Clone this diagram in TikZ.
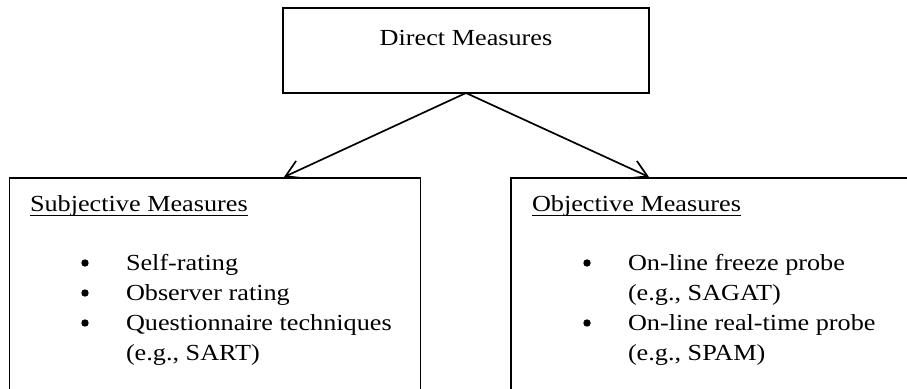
\documentclass[tikz,border=0pt]{standalone}
\usepackage{fontspec}
\setmainfont{Liberation Serif}[FakeStretch=1.14]
\usetikzlibrary{arrows.meta}
% underline at a fixed depth below the baseline
\newcommand\hdul[1]{\setbox0\hbox{#1}\rlap{\rule[-4.5pt]{\wd0}{1.3pt}}\box0}
\tikzset{
  frame/.style={draw=black, line width=1.7pt},
  txt/.style={inner sep=0pt, outer sep=0pt, anchor=base west,
              font=\fontsize{23}{30}\selectfont},
  dot/.style={circle, fill=black, inner sep=0pt, minimum size=7.4pt},
  link/.style={draw=black, line width=1.7pt,
               -{Straight Barb[length=16pt,width=19pt,line width=1.7pt]}}
}
\begin{document}
\begin{tikzpicture}[x=1pt,y=1pt]
  \useasboundingbox (0,0) rectangle (907,388);
  \clip (0,0) rectangle (907,388);
  \fill[white] (0,0) rectangle (907,388);

  % top box
  \draw[frame] (283,295) rectangle (649,380);
  \coordinate (top) at (466,295);
  \node[txt, anchor=base] (direct) at (466,342) {Direct Measures};

  % lower boxes (running past the bottom edge)
  \draw[frame] (9.5,-20) -- (9.5,210) -- (420.5,210) -- (420.5,-20);
  \draw[frame] (511,-20) -- (511,210) -- (930,210);
  \coordinate (subtip) at (284,211);
  \coordinate (objtip) at (649,211);

  % connectors
  \draw[link] (top) -- (subtip);
  \draw[link] (top) -- (objtip);

  % subjective measures
  \node[txt] (subj) at (30,176) {\hdul{Subjective Measures}};
  \node[dot] (sb1) at (85,125) {};
  \node[dot] (sb2) at (85,95) {};
  \node[dot] (sb3) at (85,65) {};
  \node[txt] (s1) at (126,117.5) {Self-rating};
  \node[txt] (s2) at (126,87.5) {Observer rating};
  \node[txt] (s3) at (126,57.5) {Questionnaire techniques};
  \node[txt] (s4) at (126,27.5) {(e.g., SART)};

  % objective measures
  \node[txt] (obj) at (532,176) {\hdul{Objective Measures}};
  \node[dot] (ob1) at (587,125) {};
  \node[dot] (ob2) at (587,65) {};
  \node[txt] (o1) at (628,117.5) {On-line freeze probe};
  \node[txt] (o2) at (628,87.5) {(e.g., SAGAT)};
  \node[txt] (o3) at (628,57.5) {On-line real-time probe};
  \node[txt] (o4) at (628,27.5) {(e.g., SPAM)};
\end{tikzpicture}
\end{document}
